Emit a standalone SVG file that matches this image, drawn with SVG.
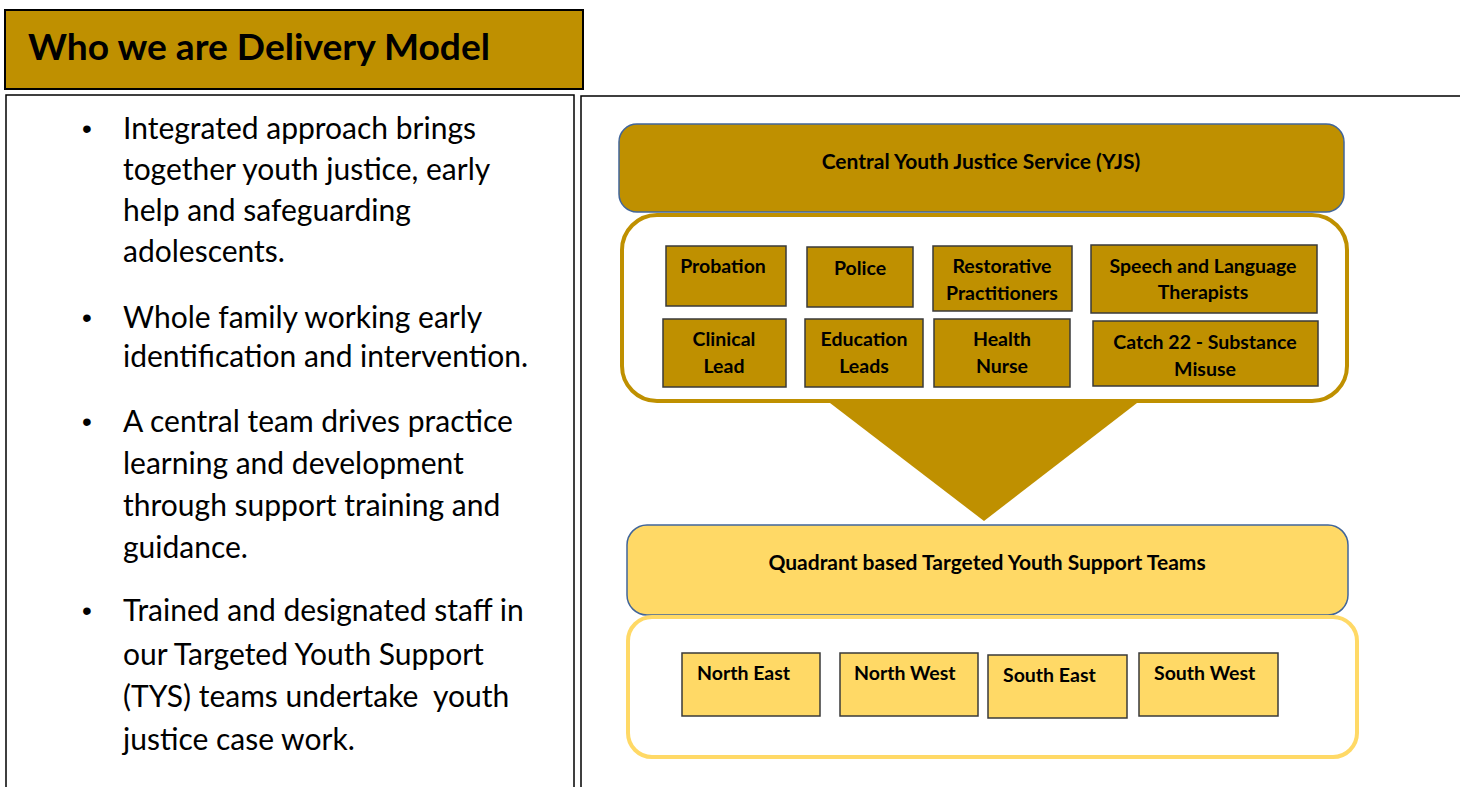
<svg xmlns="http://www.w3.org/2000/svg" width="1460" height="787" viewBox="0 0 1460 787">
  <style>
    .panel { fill: #ffffff; stroke: #000000; stroke-width: 1.5; }
    .gold { fill: #BF9000; }
    .pale { fill: #FFD966; }
    .head { stroke: #41659A; stroke-width: 1.5; }
    .cell { stroke: #3A3A3A; stroke-width: 1.5; }
    .body { font-family: Lato, "Liberation Sans", sans-serif; font-size: 30px; fill: #000000; }
    .dot { font-family: "Liberation Sans", sans-serif; font-size: 28px; fill: #000000; }
    .lbl { font-family: Lato, "Liberation Sans", sans-serif; font-size: 19.5px; font-weight: bold; fill: #000000; }
    .hdr { font-family: Lato, "Liberation Sans", sans-serif; font-size: 21px; font-weight: bold; fill: #000000; }
    .mid { text-anchor: middle; }
  </style>

  <rect width="1460" height="787" fill="#ffffff"/>

  <!-- title bar -->
  <g id="title">
    <rect x="5" y="10" width="578" height="79" fill="#BF9000" stroke="#000000" stroke-width="2"/>
    <text x="28" y="60" font-family="Lato, 'Liberation Sans', sans-serif" font-size="36" font-weight="bold" fill="#000000" textLength="462" lengthAdjust="spacingAndGlyphs">Who we are Delivery Model</text>
  </g>

  <!-- text panel with bullet points -->
  <g id="bullets">
    <rect class="panel" x="6" y="95" width="568" height="720"/>
    <g class="dot">
      <text x="82" y="138">•</text>
      <text x="82" y="327">•</text>
      <text x="82" y="431">•</text>
      <text x="82" y="620">•</text>
    </g>
    <g class="body">
      <text x="123" y="139">Integrated approach brings</text>
      <text x="123" y="180">together youth justice, early</text>
      <text x="123" y="221">help and safeguarding</text>
      <text x="123" y="262">adolescents.</text>

      <text x="123" y="328">Whole family working early</text>
      <text x="123" y="367">identification and intervention.</text>

      <text x="123" y="432">A central team drives practice</text>
      <text x="123" y="474">learning and development</text>
      <text x="123" y="516">through support training and</text>
      <text x="123" y="558">guidance.</text>

      <text x="123" y="621">Trained and designated staff in</text>
      <text x="123" y="665">our Targeted Youth Support</text>
      <text x="123" y="707" xml:space="preserve">(TYS) teams undertake  youth</text>
      <text x="123" y="750">justice case work.</text>
    </g>
  </g>

  <!-- diagram panel frame -->
  <g id="diagram-frame">
    <path d="M581 787 V96 H1460" fill="none" stroke="#000000" stroke-width="1.5"/>
  </g>

  <!-- central service -->
  <g id="central-yjs">
    <rect class="gold head" x="619" y="124" width="725" height="88" rx="18"/>
    <text class="hdr mid" x="981" y="169">Central Youth Justice Service (YJS)</text>
  </g>

  <g id="central-team">
    <rect x="622" y="215" width="725" height="186" rx="35" fill="#ffffff" stroke="#BF9000" stroke-width="4"/>
  </g>

  <g id="probation">
    <rect class="gold cell" x="666" y="246" width="120" height="60"/>
    <text class="lbl mid" x="723" y="273">Probation</text>
  </g>
  <g id="police">
    <rect class="gold cell" x="807" y="247" width="106" height="60"/>
    <text class="lbl mid" x="860" y="275">Police</text>
  </g>
  <g id="restorative">
    <rect class="gold cell" x="933" y="246" width="139" height="65"/>
    <text class="lbl mid" x="1002" y="273">Restorative</text>
    <text class="lbl mid" x="1002" y="300">Practitioners</text>
  </g>
  <g id="speech-language">
    <rect class="gold cell" x="1091" y="245" width="226" height="68"/>
    <text class="lbl mid" x="1203" y="273">Speech and Language</text>
    <text class="lbl mid" x="1203" y="299">Therapists</text>
  </g>
  <g id="clinical">
    <rect class="gold cell" x="663" y="319" width="123" height="68"/>
    <text class="lbl mid" x="724" y="346">Clinical</text>
    <text class="lbl mid" x="724" y="373">Lead</text>
  </g>
  <g id="education">
    <rect class="gold cell" x="805" y="319" width="118" height="68"/>
    <text class="lbl mid" x="864" y="346">Education</text>
    <text class="lbl mid" x="864" y="373">Leads</text>
  </g>
  <g id="health">
    <rect class="gold cell" x="934" y="319" width="136" height="68"/>
    <text class="lbl mid" x="1002" y="346">Health</text>
    <text class="lbl mid" x="1002" y="373">Nurse</text>
  </g>
  <g id="catch22">
    <rect class="gold cell" x="1093" y="321" width="225" height="65"/>
    <text class="lbl mid" x="1205" y="349">Catch 22 - Substance</text>
    <text class="lbl mid" x="1205" y="376">Misuse</text>
  </g>

  <!-- downward funnel between the two tiers -->
  <g id="connectors">
    <polygon class="gold" points="830,403 1137,403 984,521"/>
  </g>

  <!-- quadrant teams -->
  <g id="quadrant-tys">
    <rect class="pale head" x="627" y="525" width="721" height="90" rx="20"/>
    <text class="hdr mid" x="987" y="570">Quadrant based Targeted Youth Support Teams</text>
  </g>

  <g id="quadrant-group">
    <rect x="628" y="617" width="729" height="140" rx="24" fill="#ffffff" stroke="#FFD966" stroke-width="4"/>
  </g>

  <g id="north-east">
    <rect class="pale cell" x="682" y="653" width="138" height="63"/>
    <text class="lbl" x="697" y="680">North East</text>
  </g>
  <g id="north-west">
    <rect class="pale cell" x="840" y="653" width="138" height="63"/>
    <text class="lbl" x="854" y="680">North West</text>
  </g>
  <g id="south-east">
    <rect class="pale cell" x="988" y="655" width="139" height="63"/>
    <text class="lbl" x="1003" y="682">South East</text>
  </g>
  <g id="south-west">
    <rect class="pale cell" x="1139" y="653" width="139" height="63"/>
    <text class="lbl" x="1154" y="680">South West</text>
  </g>
</svg>
